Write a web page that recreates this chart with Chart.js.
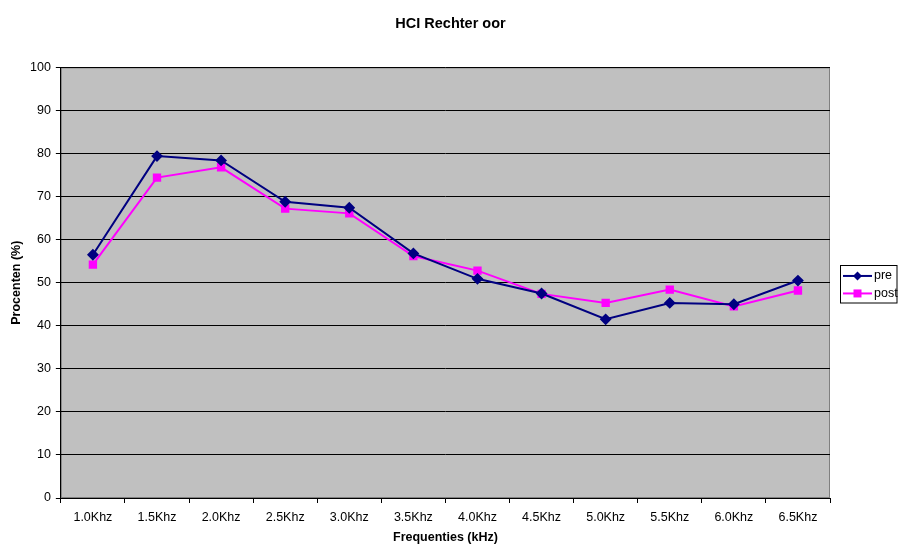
<!DOCTYPE html>
<html>
<head>
<meta charset="utf-8">
<script src="https://cdn.jsdelivr.net/npm/chart.js@4/dist/chart.umd.min.js"></script>
<style>
  html, body { margin: 0; padding: 0; background: #fff; }
  #wrap { width: 898px; height: 544px; position: relative; }
</style>
</head>
<body>
<div id="wrap"><canvas id="c"></canvas></div>
<script>
const categories = ["1.0Khz","1.5Khz","2.0Khz","2.5Khz","3.0Khz","3.5Khz","4.0Khz","4.5Khz","5.0Khz","5.5Khz","6.0Khz","6.5Khz"];
const preValues  = [56.5, 79.4, 78.4, 68.8, 67.4, 56.8, 50.9, 47.5, 41.5, 45.3, 45.0, 50.5];
const postValues = [54.2, 74.4, 76.8, 67.2, 66.1, 56.2, 52.8, 47.4, 45.3, 48.4, 44.5, 48.2];
const yTicks = [0,10,20,30,40,50,60,70,80,90,100];

const FONT = "'Liberation Sans', Arial, sans-serif";
const LEGEND_WIDTH = 68;

const bgPlugin = {
  id: 'plotBg',
  beforeDraw(chart) {
    const {ctx, chartArea: a} = chart;
    ctx.save();
    ctx.fillStyle = '#C0C0C0';
    ctx.fillRect(a.left, a.top, a.right - a.left, a.bottom - a.top);
    ctx.strokeStyle = '#808080';
    ctx.lineWidth = 1;
    ctx.strokeRect(a.left + 0.5, a.top + 0.5, a.right - a.left - 1, a.bottom - a.top - 1);
    ctx.restore();
  }
};

const legendFix = {
  id: 'legendFix',
  beforeLayout(chart) {
    const lg = chart.legend;
    if (lg && !lg._fixedWidth) {
      const orig = lg.fit.bind(lg);
      lg.fit = function () { orig(); this.width = LEGEND_WIDTH; };
      lg._fixedWidth = true;
    }
  }
};

const legendDeco = {
  id: 'legendDeco',
  afterDraw(chart) {
    const lg = chart.legend;
    if (!lg || !lg.legendHitBoxes || !lg.legendHitBoxes.length) return;
    const ctx = chart.ctx;
    const hbs = lg.legendHitBoxes;
    ctx.save();
    const first = hbs[0], last = hbs[hbs.length - 1];
    const bx = Math.round(first.left + 5) + 0.5;
    const by = Math.round(first.top + first.height / 2 - 11) + 0.5;
    const bw = chart.width - 1 - bx;
    const bh = Math.round(last.top + last.height / 2 + 9.5) - by;
    ctx.strokeStyle = '#000';
    ctx.lineWidth = 1;
    ctx.strokeRect(bx, by, bw, bh);
    hbs.forEach((hb, i) => {
      const ds = chart.data.datasets[i];
      const x0 = hb.left + 8, x1 = hb.left + 37;
      const cy = hb.top + hb.height / 2;
      ctx.strokeStyle = ds.borderColor;
      ctx.lineWidth = 2;
      ctx.beginPath(); ctx.moveTo(x0, cy); ctx.lineTo(x1, cy); ctx.stroke();
      const cx = (x0 + x1) / 2;
      ctx.fillStyle = ds.borderColor;
      if (ds.pointStyle === 'rectRot') {
        const r = 4.5;
        ctx.beginPath();
        ctx.moveTo(cx, cy - r); ctx.lineTo(cx + r, cy); ctx.lineTo(cx, cy + r); ctx.lineTo(cx - r, cy);
        ctx.closePath(); ctx.fill();
      } else {
        ctx.fillRect(cx - 4, cy - 4, 8, 8);
      }
    });
    ctx.restore();
  }
};

new Chart(document.getElementById('c'), {
  type: 'line',
  data: {
    labels: categories,
    datasets: [
      { label: 'pre', data: preValues, borderColor: '#000080', backgroundColor: '#000080',
        borderWidth: 2, pointStyle: 'rectRot', pointRadius: 4.5, pointHoverRadius: 4.5, tension: 0 },
      { label: 'post', data: postValues, borderColor: '#FF00FF', backgroundColor: '#FF00FF',
        borderWidth: 2, pointStyle: 'rect', pointRadius: 4.5, pointHoverRadius: 4.5, tension: 0 }
    ]
  },
  options: {
    responsive: true,
    maintainAspectRatio: false,
    animation: false,
    layout: { padding: { left: 3, right: 0, top: 0, bottom: -1 } },
    plugins: {
      title: { display: true, text: 'HCI Rechter oor', color: '#000',
        font: { family: FONT, size: 14.5, weight: 'bold' }, padding: { top: 15, bottom: 35 } },
      legend: { position: 'right', fullSize: false,
        title: { display: true, text: ' ', font: { family: FONT, size: 1, lineHeight: 1 }, padding: { top: 3, bottom: 0 } },
        labels: { color: '#000', font: { family: FONT, size: 12.5 }, boxWidth: 32.75, boxHeight: 2, padding: 5,
          generateLabels(chart) {
            return chart.data.datasets.map((ds, i) => ({
              text: ds.label, fillStyle: 'rgba(0,0,0,0)', strokeStyle: 'rgba(0,0,0,0)', lineWidth: 0,
              datasetIndex: i, hidden: false, fontColor: '#000'
            }));
          } } },
      tooltip: { enabled: false }
    },
    scales: {
      x: {
        offset: true,
        grid: { offset: true, drawOnChartArea: false, drawTicks: true, tickLength: 5, color: '#000' },
        border: { color: '#000', width: 1 },
        ticks: { color: '#000', font: { family: FONT, size: 12.5 }, padding: 7.5, maxRotation: 0, autoSkip: false },
        title: { display: true, text: 'Frequenties (kHz)', color: '#000',
          font: { family: FONT, size: 12.5, weight: 'bold' }, padding: { top: -3, bottom: 0 } }
      },
      y: {
        min: 0, max: 100,
        afterBuildTicks(axis) { axis.ticks = yTicks.map(v => ({ value: v })); },
        grid: { color: '#000', drawTicks: true, tickLength: 5, lineWidth: 1 },
        border: { color: '#000', width: 1 },
        ticks: { color: '#000', font: { family: FONT, size: 12.5 }, padding: 5 },
        title: { display: true, text: 'Procenten (%)', color: '#000',
          font: { family: FONT, size: 12.5, weight: 'bold' }, padding: { top: 6, bottom: 1 } }
      }
    }
  },
  plugins: [bgPlugin, legendFix, legendDeco]
});
</script>
</body>
</html>
